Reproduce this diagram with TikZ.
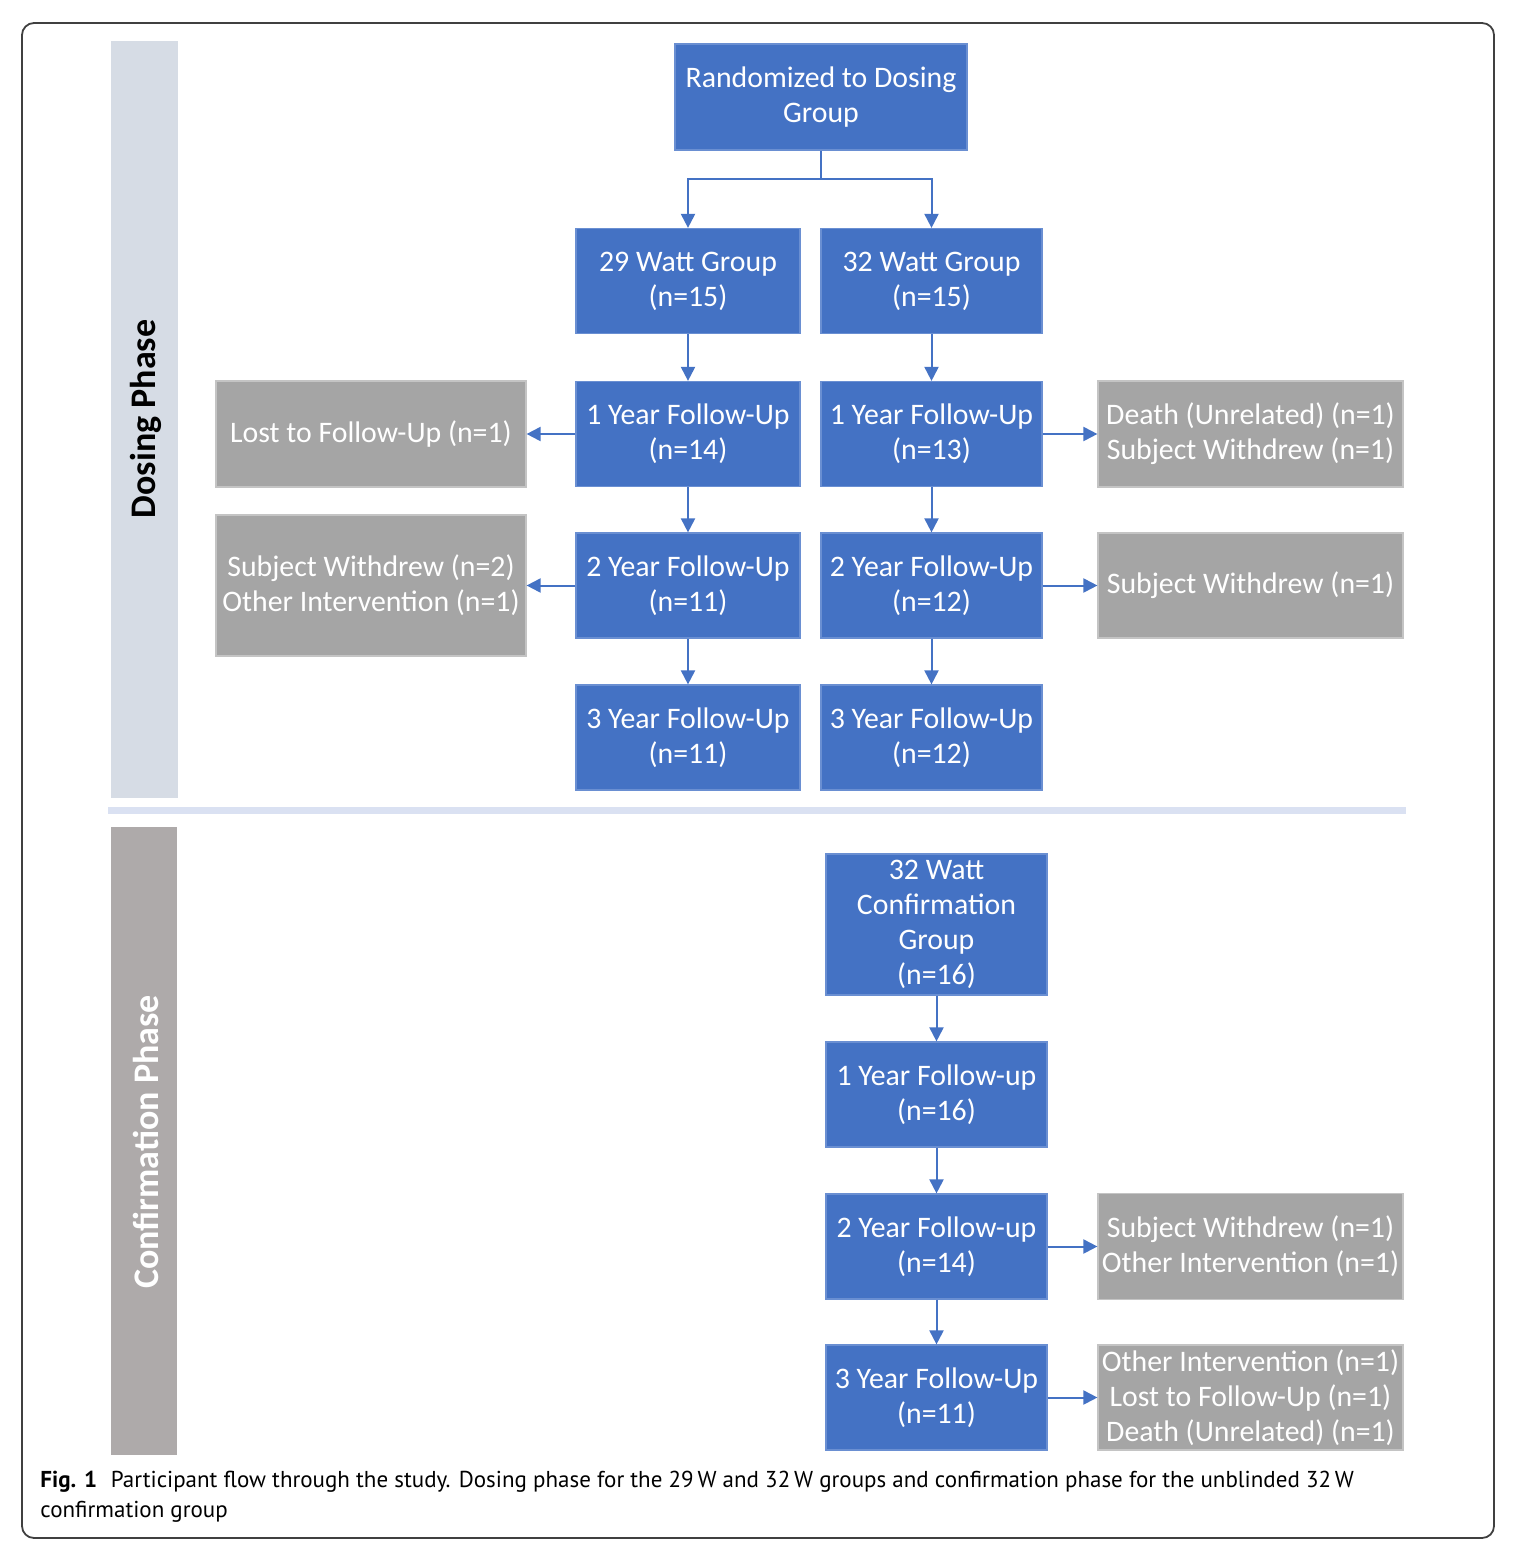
\documentclass[tikz,border=0pt]{standalone}
\usepackage{fontspec}
\setmainfont{Carlito}
\newfontfamily\capfont{PT Sans}
\usetikzlibrary{arrows.meta}
\definecolor{boxblue}{HTML}{4472C4}
\definecolor{boxblueedge}{HTML}{6A8FD2}
\definecolor{boxgray}{HTML}{A5A5A5}
\definecolor{boxgrayedge}{HTML}{C4C4C4}
\definecolor{bandblue}{HTML}{D6DCE5}
\definecolor{bandgray}{HTML}{AEAAAA}
\definecolor{sepblue}{HTML}{DAE1F2}
\tikzset{
  bluebox/.style={draw=boxblueedge, line width=0.6pt, fill=boxblue, text=white, align=center,
    inner sep=0pt, font=\fontsize{14.9}{17.5}\selectfont},
  graybox/.style={draw=boxgrayedge, line width=0.6pt, fill=boxgray, text=white, align=center,
    inner sep=0pt, font=\fontsize{14.9}{17.5}\selectfont},
  wide/.style={minimum width=112pt, minimum height=52.5pt},
  narrow/.style={minimum width=110.5pt, minimum height=52.5pt},
  flow/.style={draw=boxblue, line width=1pt, -{Triangle[length=7pt,width=7pt]}},
  bandlabel/.style={rotate=90, font=\fontsize{18}{20}\selectfont\bfseries}
}
\begin{document}
\begin{tikzpicture}[x=0.5pt,y=-0.5pt]
\useasboundingbox (0,0) rectangle (1514,1557);
% frame
\draw[line width=0.9pt, color=black!75, rounded corners=6pt] (22,23) rectangle (1494,1538);
% bands
\fill[bandblue] (111,41) rectangle (178,798);
\fill[sepblue] (108,807) rectangle (1406,814);
\fill[bandgray] (111,827) rectangle (177,1455);
\node[bandlabel, text=black] (dlab) at (146,419) {Dosing Phase};
\node[bandlabel, text=white] (clab) at (146,1142) {Confirmation Phase};
% dosing phase
\node[bluebox, minimum width=146pt, minimum height=53pt] (rand) at (821,97) {Randomized to Dosing\\Group};
\node[bluebox, wide] (a0) at (688,281) {29 Watt Group\\(n=15)};
\node[bluebox, narrow] (b0) at (931.5,281) {32 Watt Group\\(n=15)};
\node[bluebox, wide] (a1) at (688,434) {1 Year Follow-Up\\(n=14)};
\node[bluebox, narrow] (b1) at (931.5,434) {1 Year Follow-Up\\(n=13)};
\node[bluebox, wide] (a2) at (688,585.5) {2 Year Follow-Up\\(n=11)};
\node[bluebox, narrow] (b2) at (931.5,585.5) {2 Year Follow-Up\\(n=12)};
\node[bluebox, wide] (a3) at (688,737.5) {3 Year Follow-Up\\(n=11)};
\node[bluebox, narrow] (b3) at (931.5,737.5) {3 Year Follow-Up\\(n=12)};
\node[graybox, minimum width=155pt, minimum height=53pt] (la1) at (371,434) {Lost to Follow-Up (n=1)};
\node[graybox, minimum width=155pt, minimum height=70.5pt] (la2) at (371,585.5) {Subject Withdrew (n=2)\\Other Intervention (n=1)};
\node[graybox, minimum width=152.5pt, minimum height=53pt] (rb1) at (1250.5,434) {Death (Unrelated) (n=1)\\Subject Withdrew (n=1)};
\node[graybox, minimum width=152.5pt, minimum height=52.5pt] (rb2) at (1250.5,585.5) {Subject Withdrew (n=1)};
% confirmation phase
\node[bluebox, minimum width=110.5pt, minimum height=70.5pt] (c0) at (936.5,924.5) {32 Watt\\Confirmation\\Group\\(n=16)};
\node[bluebox, narrow] (c1) at (936.5,1094.5) {1 Year Follow-up\\(n=16)};
\node[bluebox, narrow] (c2) at (936.5,1246.5) {2 Year Follow-up\\(n=14)};
\node[bluebox, narrow] (c3) at (936.5,1397.5) {3 Year Follow-Up\\(n=11)};
\node[graybox, minimum width=152.5pt, minimum height=53pt] (rc2) at (1250.5,1246.5) {Subject Withdrew (n=1)\\Other Intervention (n=1)};
\node[graybox, minimum width=152.5pt, minimum height=52.5pt] (rc3) at (1250.5,1397.5) {Other Intervention (n=1)\\Lost to Follow-Up (n=1)\\Death (Unrelated) (n=1)};
% connectors
\coordinate (split) at (821,179);
\draw[draw=boxblue, line width=1pt] (rand.south) -- (split);
\draw[flow] (split) -| (a0.north);
\draw[flow] (split) -| (b0.north);
\draw[flow] (a0) -- (a1);
\draw[flow] (a1) -- (a2);
\draw[flow] (a2) -- (a3);
\draw[flow] (b0) -- (b1);
\draw[flow] (b1) -- (b2);
\draw[flow] (b2) -- (b3);
\draw[flow] (a1.west) -- (la1.east);
\draw[flow] (a2.west) -- (la2.east);
\draw[flow] (b1.east) -- (rb1.west);
\draw[flow] (b2.east) -- (rb2.west);
\draw[flow] (c0) -- (c1);
\draw[flow] (c1) -- (c2);
\draw[flow] (c2) -- (c3);
\draw[flow] (c2.east) -- (rc2.west);
\draw[flow] (c3.east) -- (rc3.west);
% caption
\node[anchor=north west, align=left, inner sep=0pt, font=\capfont\fontsize{11.5}{15}\selectfont] (cap) at (40,1471)
  {\textbf{Fig. 1}\hspace{0.6em}Participant flow through the study. Dosing phase for the 29\,W and 32\,W groups and confirmation phase for the unblinded 32\,W\\confirmation group};
\end{tikzpicture}
\end{document}
